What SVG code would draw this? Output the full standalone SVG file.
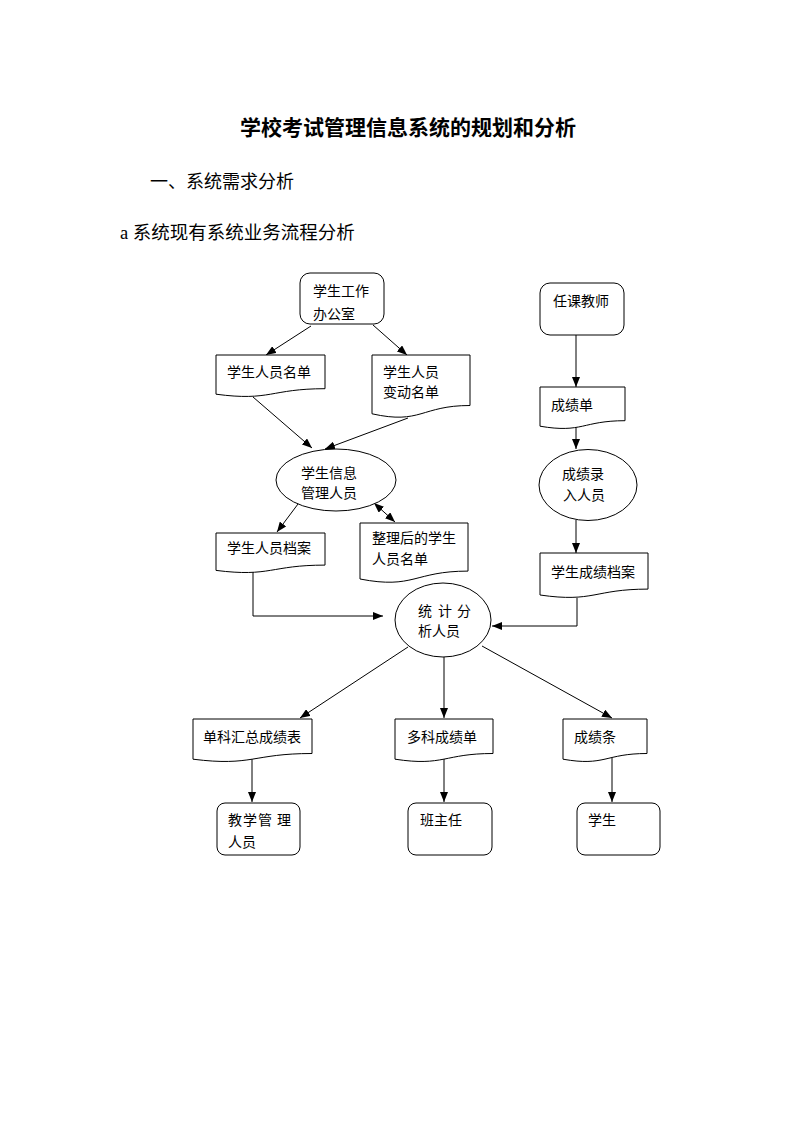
<svg xmlns="http://www.w3.org/2000/svg" width="793" height="1122" viewBox="0 0 793 1122">
<defs>
<marker id="ah" viewBox="0 0 10 8" refX="10" refY="4" markerWidth="10" markerHeight="8" markerUnits="userSpaceOnUse" orient="auto-start-reverse">
<path d="M0,0 L10,4 L0,8 Z" fill="#000"/>
</marker>
<style>
.t{font-family:"Liberation Serif","Noto Sans CJK SC",serif;fill:#000}
.n{font-size:14px}
.s{fill:#fff;stroke:#000;stroke-width:1}
.c{fill:none;stroke:#000;stroke-width:1}
.a{marker-end:url(#ah)}
</style>
</defs>
<rect width="793" height="1122" fill="#fff"/>
<text class="t" x="240" y="135" font-size="21" font-weight="bold">学校考试管理信息系统的规划和分析</text>
<text class="t" x="150" y="188" font-size="18">一、系统需求分析</text>
<text class="t" x="120" y="239" font-size="18.5">a 系统现有系统业务流程分析</text>

<g id="connectors">
<line class="c a" x1="311" y1="326" x2="266" y2="355"/>
<line class="c a" x1="373" y1="325" x2="407" y2="355"/>
<line class="c a" x1="253" y1="397" x2="312" y2="448"/>
<line class="c a" x1="408" y1="418" x2="325" y2="449"/>
<line class="c a" x1="298" y1="504" x2="277" y2="532"/>
<line class="c a" x1="374" y1="503" x2="395" y2="522" style="marker-start:url(#ah)"/>
<line class="c a" x1="576" y1="335" x2="576" y2="387"/>
<line class="c a" x1="576" y1="427" x2="576" y2="449"/>
<line class="c a" x1="576" y1="520" x2="576" y2="553"/>
<polyline class="c a" points="253,572 253,616 383,616"/>
<polyline class="c a" points="577,598 577,626 492,626"/>
<line class="c a" x1="408" y1="647" x2="300" y2="718"/>
<line class="c a" x1="444" y1="657" x2="444" y2="718"/>
<line class="c a" x1="482" y1="646" x2="612" y2="718"/>
<line class="c a" x1="252" y1="759" x2="252" y2="802"/>
<line class="c a" x1="444" y1="759" x2="444" y2="802"/>
<line class="c a" x1="612" y1="758" x2="612" y2="802"/>
</g>

<g id="n_office">
<rect class="s" x="300" y="273" width="84" height="51" rx="10"/>
<text class="t n" x="313" y="296">学生工作</text>
<text class="t n" x="313" y="319">办公室</text>
</g>
<g id="n_list">
<path class="s" d="M216,355 H325 V388.7 C270.5,388.7 270.5,401.5 216,394.2 Z"/>
<text class="t n" x="227" y="377">学生人员名单</text>
</g>
<g id="n_change">
<path class="s" d="M372,355 H470 V405.5 C421,405.5 421,424.8 372,413.8 Z"/>
<text class="t n" x="383" y="377">学生人员</text>
<text class="t n" x="383" y="397">变动名单</text>
</g>
<g id="n_infomgr">
<ellipse class="s" cx="336" cy="480" rx="60" ry="31"/>
<text class="t n" x="301" y="478">学生信息</text>
<text class="t n" x="301" y="498">管理人员</text>
</g>
<g id="n_archive">
<path class="s" d="M216,533 H325 V565.1 C270.5,565.1 270.5,577.3 216,570.4 Z"/>
<text class="t n" x="227" y="553">学生人员档案</text>
</g>
<g id="n_sorted">
<path class="s" d="M360,523 H468 V571.1 C414,571.1 414,589.5 360,579 Z"/>
<text class="t n" x="372" y="543">整理后的学生</text>
<text class="t n" x="372" y="564">人员名单</text>
</g>
<g id="n_teacher">
<rect class="s" x="540" y="283" width="84" height="52" rx="10"/>
<text class="t n" x="553" y="306">任课教师</text>
</g>
<g id="n_score">
<path class="s" d="M540,387 H625 V420.7 C582.5,420.7 582.5,433.5 540,426.2 Z"/>
<text class="t n" x="551" y="410">成绩单</text>
</g>
<g id="n_entry">
<ellipse class="s" cx="588" cy="485" rx="49" ry="35.5"/>
<text class="t n" x="562" y="479">成绩录</text>
<text class="t n" x="563" y="500">入人员</text>
</g>
<g id="n_scorearchive">
<path class="s" d="M540,553 H648 V589.1 C594,589.1 594,602.8 540,595 Z"/>
<text class="t n" x="551" y="577">学生成绩档案</text>
</g>
<g id="n_stat">
<ellipse class="s" cx="443" cy="620" rx="48" ry="37"/>
<text class="t n" x="418 432 438 452 457" y="616">统 计 分</text>
<text class="t n" x="418" y="636">析人员</text>
</g>
<g id="n_single">
<path class="s" d="M193,719 H312 V753.5 C252.5,753.5 252.5,766.6 193,759.2 Z"/>
<text class="t n" x="203" y="742">单科汇总成绩表</text>
</g>
<g id="n_multi">
<path class="s" d="M395,719 H493 V753.5 C444,753.5 444,766.6 395,759.2 Z"/>
<text class="t n" x="407" y="742">多科成绩单</text>
</g>
<g id="n_slip">
<path class="s" d="M563,719 H647 V753.5 C605,753.5 605,766.6 563,759.2 Z"/>
<text class="t n" x="574" y="742">成绩条</text>
</g>
<g id="n_teachmgr">
<rect class="s" x="217" y="803" width="83" height="52" rx="8"/>
<text class="t n" x="228 243 258 272 277" y="825">教学管 理</text>
<text class="t n" x="228" y="847">人员</text>
</g>
<g id="n_headteacher">
<rect class="s" x="408" y="803" width="84" height="52" rx="8"/>
<text class="t n" x="420" y="825">班主任</text>
</g>
<g id="n_student">
<rect class="s" x="577" y="803" width="83" height="52" rx="8"/>
<text class="t n" x="588" y="825">学生</text>
</g>
</svg>
